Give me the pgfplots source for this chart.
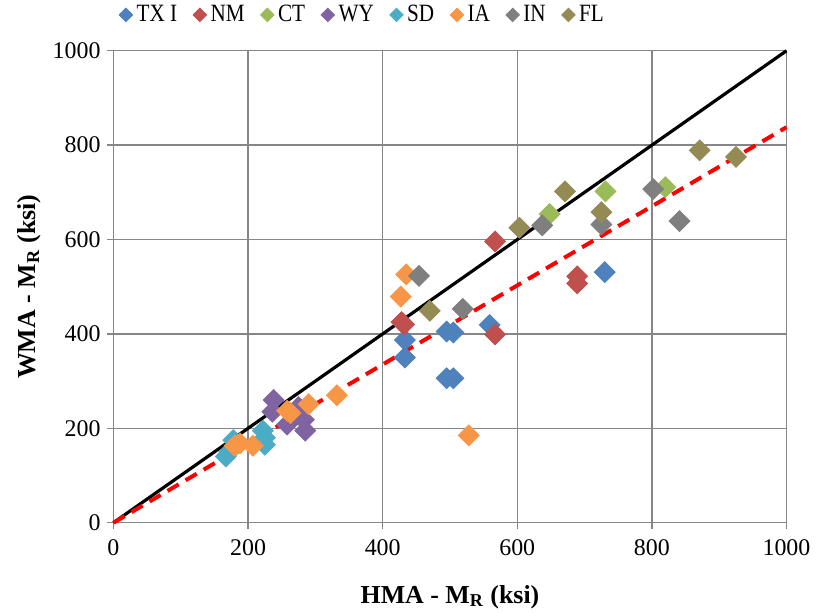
\documentclass[border=0pt]{standalone}
\usepackage{fontspec}
\setmainfont{Liberation Serif}
\newfontfamily\legfont[FakeStretch=0.85]{Liberation Serif}
\usepackage{pgfplots}
\pgfplotsset{compat=1.18}
\definecolor{cTX}{HTML}{4F81BD}
\definecolor{cNM}{HTML}{C0504D}
\definecolor{cCT}{HTML}{9BBB59}
\definecolor{cWY}{HTML}{8064A2}
\definecolor{cSD}{HTML}{4BACC6}
\definecolor{cIA}{HTML}{F79646}
\definecolor{cIN}{HTML}{7F7F7F}
\definecolor{cFL}{HTML}{948A54}
\definecolor{gridc}{HTML}{868686}
\pgfplotsset{dia/.style={only marks, mark=square*, mark options={rotate=45}, mark size=3.7pt, color=#1, fill=#1}}
\begin{document}
\begin{tikzpicture}
\begin{axis}[
  scale only axis, width=338pt, height=237pt,
  xmin=0, xmax=1000, ymin=0, ymax=1000,
  xtick={0,200,...,1000}, ytick={0,200,...,1000},
  grid=major, major grid style={gridc, line width=0.7pt},
  axis line style={gridc, line width=0.7pt},
  tick style={gridc, line width=0.7pt}, tick align=outside, major tick length=3pt,
  xtick pos=bottom, ytick pos=left,
  /pgf/number format/assume math mode=true,
  /pgf/number format/1000 sep={},
  tick label style={font=\fontsize{12}{14}\selectfont},
  xticklabel style={yshift=-2pt},
  xlabel={HMA - M\textsubscript{R} (ksi)},
  ylabel={WMA - M\textsubscript{R} (ksi)},
  label style={font=\bfseries\fontsize{13}{15}\selectfont},
  xlabel style={yshift=-8pt},
  ylabel style={yshift=-1pt},
  clip=false,
  legend columns=8,
  legend style={draw=none, fill=none, at={(0.3715,1.076)}, anchor=center,
    font=\legfont\fontsize{12.5}{14}\selectfont,
    /tikz/every even column/.append style={column sep=6pt},
    inner sep=0pt},
  legend image code/.code={\draw[mark repeat=2,mark phase=2,#1, mark size=2.4pt] plot coordinates {(0cm,0cm) (0.12cm,0cm) (0.24cm,0cm)};},
]
\addplot[sharp plot, no markers, black, line width=1.6pt, forget plot] coordinates {(0,0) (1000,1000)};
\addplot[sharp plot, no markers, red, line width=2pt, dash pattern=on 6.5pt off 4pt, forget plot] coordinates {(0,0) (1000,838)};
\addplot[dia=cTX] coordinates {(433,387) (433,350) (495,405) (505,403) (559,419) (495,306) (505,306) (730,531)};
\addlegendentry{TX I}
\addplot[dia=cNM] coordinates {(428,425) (432,420) (567,596) (567,399) (689,522) (689,507)};
\addlegendentry{NM}
\addplot[dia=cCT] coordinates {(648,654) (731,702) (820,711)};
\addlegendentry{CT}
\addplot[dia=cWY] coordinates {(238,260) (236,235) (258,208) (275,245) (283,218) (285,195)};
\addlegendentry{WY}
\addplot[dia=cSD] coordinates {(167,140) (172,150) (178,175) (222,195) (225,180) (225,165)};
\addlegendentry{SD}
\addplot[dia=cIA] coordinates {(180,163) (188,168) (207,163) (258,237) (263,232) (290,251) (332,270) (427,479) (435,526) (528,185)};
\addlegendentry{IA}
\addplot[dia=cIN] coordinates {(454,523) (519,453) (637,630) (725,632) (802,707) (841,639)};
\addlegendentry{IN}
\addplot[dia=cFL] coordinates {(470,449) (603,625) (671,702) (725,658) (871,789) (925,775)};
\addlegendentry{FL}
\coordinate (bl) at (rel axis cs:-0.1686,-0.1857);
\coordinate (tr) at (rel axis cs:1.04,1.1076);
\end{axis}
\path (bl) rectangle (tr);
\end{tikzpicture}
\end{document}
